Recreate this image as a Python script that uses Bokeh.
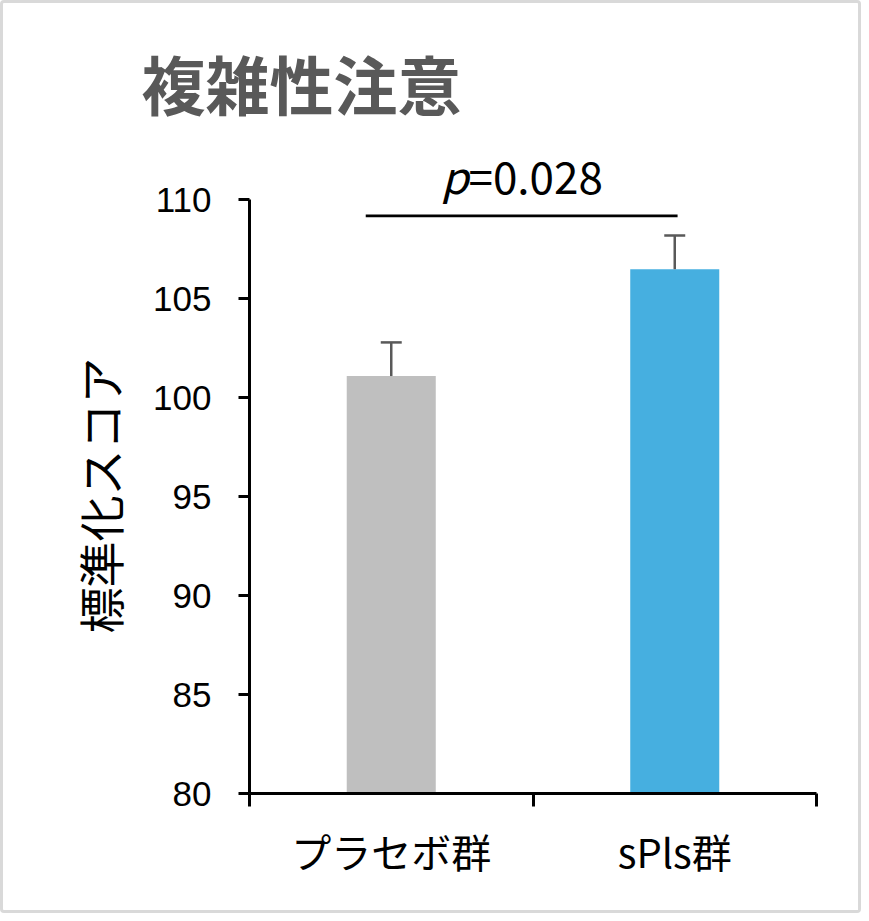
from bokeh.plotting import figure
from bokeh.models import Range1d, FixedTicker, Title
from bokeh.core.properties import value
from bokeh.embed import file_html
from bokeh.resources import INLINE

# ---- data ----
categories = ["プラセボ群", "sPls群"]
cat_pos = [0.5, 1.5]
means = [101.1, 106.5]
errors = [1.7, 1.7]
bar_colors = ["#BFBFBF", "#46AFE0"]
y_ticks = [80, 85, 90, 95, 100, 105, 110]
sig_x = [0.41, 1.51]
sig_y = 109.2
p_text_x = 0.97
p_text_y = 111.26
title_text = "複雑性注意"
y_label = "標準化スコア"

CJK = "Noto Sans CJK JP"

p = figure(width=861, height=913, output_backend="svg", toolbar_location=None,
           x_range=Range1d(0, 2), y_range=Range1d(80, 112.5),
           min_border_left=246, min_border_right=48, min_border_top=147, min_border_bottom=123,
           styles={"border": "3px solid #D9D9D9", "border-radius": "4px"})
p.outline_line_color = None
p.xgrid.visible = False
p.ygrid.visible = False
p.background_fill_color = "white"
p.border_fill_color = "white"

# title
p.title.text = title_text
p.title.text_font = CJK
p.title.text_font_size = "64px"
p.title.text_font_style = "bold"
p.title.text_color = "#595959"
p.title.align = "left"
p.title.offset = -108
p.title.standoff = 46

# y label as a left title
p.add_layout(Title(text=y_label, align="left", offset=160, standoff=38,
                   text_font=CJK, text_font_size="46px", text_font_style="normal",
                   text_line_height=1.4, text_color="black"), "left")

# bars
p.vbar(x=cat_pos, top=means, bottom=80, width=0.314, fill_color=bar_colors, line_color=None)

# error bars (upper only)
tops = [m + e for m, e in zip(means, errors)]
p.segment(x0=cat_pos, y0=means, x1=cat_pos, y1=tops, line_color="#595959", line_width=2.5)
cap = 0.037
p.segment(x0=[c - cap for c in cat_pos], y0=tops, x1=[c + cap for c in cat_pos], y1=tops,
          line_color="#595959", line_width=2.5)

# significance
p.line(x=sig_x, y=[sig_y, sig_y], line_color="black", line_width=2.7)
p.text(x=[p_text_x], y=[p_text_y], text=["p"], text_font=value(CJK), text_font_size="44px",
       text_font_style="italic", text_align="right", text_baseline="alphabetic", x_offset=-56,
       text_color="black")
p.text(x=[p_text_x], y=[p_text_y], text=["=0.028"], text_font=value(CJK), text_font_size="44px",
       text_align="left", text_baseline="alphabetic", x_offset=-56, text_color="black")

# y axis
ya = p.yaxis[0]
ya.bounds = (80, 110)
ya.ticker = FixedTicker(ticks=y_ticks)
ya.minor_tick_line_color = None
ya.major_tick_in = 0
ya.major_tick_out = 11
ya.major_tick_line_width = 3
ya.axis_line_width = 3
ya.axis_line_color = "black"
ya.major_tick_line_color = "black"
ya.major_label_text_font = "Liberation Sans"
ya.major_label_text_font_size = "35px"
ya.major_label_text_color = "black"
ya.major_label_standoff = 27

# x axis: boundary ticks as minor ticks, labels at centers
xa = p.xaxis[0]
xa.ticker = FixedTicker(ticks=cat_pos, minor_ticks=[0, 1, 2])
xa.major_label_overrides = {cat_pos[i]: categories[i] for i in range(len(categories))}
xa.major_tick_in = 0
xa.major_tick_out = 0
xa.minor_tick_in = 0
xa.minor_tick_out = 13
xa.minor_tick_line_width = 3
xa.minor_tick_line_color = "black"
xa.axis_line_width = 3
xa.axis_line_color = "black"
xa.major_label_text_font = CJK
xa.major_label_text_font_size = "40px"
xa.major_label_text_color = "black"
xa.major_label_standoff = 15

open("out.html", "w").write(file_html(p, INLINE))
